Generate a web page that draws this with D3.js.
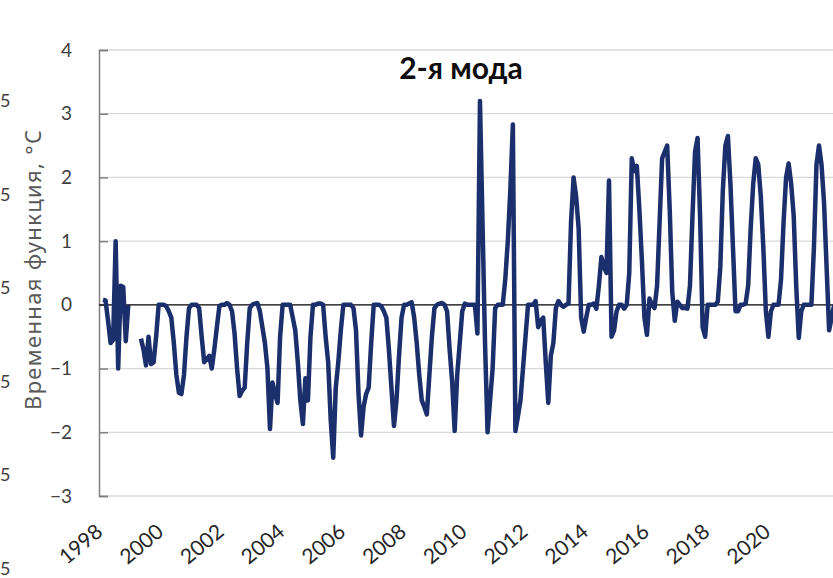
<!DOCTYPE html>
<html>
<head>
<meta charset="utf-8">
<script src="https://cdnjs.cloudflare.com/ajax/libs/d3/7.8.5/d3.min.js"></script>
<style>
  body { margin: 0; background: #fff; }
  svg { display: block; font-family: Lato, "Noto Sans", sans-serif; }
</style>
</head>
<body>
<svg id="chart" width="833" height="578"></svg>
<script>
// tick labels
var yTicks = [-3, -2, -1, 0, 1, 2, 3, 4];
var yearLabels = ['1998', '2000', '2002', '2004', '2006', '2008', '2010', '2012', '2014', '2016', '2018', '2020'];
// digits of the neighbouring chart seen on the left edge
var leftCut = ['5', '5', '5', '5', '5', '5'];

// monthly values of the 2nd mode from Jan 1998 (null = gap)
var mode2 = [
  0.08, 0.07, -0.25, -0.6, -0.55, 1.0, -1.0, 0.3, 0.28, -0.57, 0.0, null,
  null, null, null, -0.53, -0.7, -0.95, -0.5, -0.93, -0.9, -0.5, 0.0, 0.0,
  0.0, -0.02, -0.1, -0.2, -0.6, -1.1, -1.38, -1.4, -1.1, -0.5, -0.05, 0.0,
  0.0, 0.0, -0.05, -0.5, -0.9, -0.85, -0.8, -1.0, -0.7, -0.35, -0.02, 0.0,
  0.0, 0.03, 0.0, -0.1, -0.45, -1.0, -1.43, -1.35, -1.3, -0.6, -0.05, 0.0,
  0.02, 0.03, -0.1, -0.35, -0.6, -1.0, -1.95, -1.22, -1.4, -1.54, -0.5, 0.0,
  0.0, 0.0, 0.0, -0.2, -0.4, -0.9, -1.5, -1.87, -1.15, -1.5, -0.5, 0.0,
  0.0, 0.02, 0.02, 0.0, -0.5, -0.9, -1.8, -2.4, -1.3, -0.9, -0.4, 0.0,
  0.0, 0.0, 0.0, -0.05, -0.4, -1.4, -2.05, -1.6, -1.4, -1.3, -0.6, 0.0,
  0.0, 0.0, -0.02, -0.1, -0.2, -0.7, -1.3, -1.9, -1.5, -0.8, -0.2, 0.0,
  0.0, 0.02, 0.04, -0.2, -0.6, -1.1, -1.5, -1.6, -1.72, -1.1, -0.5, -0.05,
  0.0, 0.02, 0.03, 0.0, -0.1, -0.7, -1.2, -1.98, -1.1, -0.6, -0.1, 0.02,
  0.0, 0.0, 0.0, 0.0, -0.45, 3.2, 1.3, -0.6, -2.0, -1.5, -1.0, -0.05,
  0.0, 0.0, 0.0, 0.4, 1.0, 1.8, 2.83, -1.98, -1.75, -1.5, -1.0, -0.5,
  0.0, 0.0, 0.0, 0.06, -0.35, -0.25, -0.2, -0.9, -1.54, -0.8, -0.6, -0.05,
  0.06, 0.0, -0.03, 0.0, 0.02, 1.3, 2.0, 1.7, 1.2, -0.2, -0.42, -0.2,
  0.0, 0.0, 0.02, -0.06, 0.3, 0.75, 0.6, 0.5, 1.95, -0.5, -0.4, -0.1,
  0.0, 0.0, -0.06, 0.0, 0.5, 2.3, 2.1, 2.18, 1.5, 0.7, -0.2, -0.47,
  0.1, 0.0, -0.05, 0.3, 1.3, 2.3, 2.4, 2.5, 1.5, 0.2, -0.25, 0.05,
  0.0, -0.05, -0.05, -0.06, 0.3, 1.4, 2.4, 2.62, 1.4, -0.35, -0.5, 0.0,
  0.0, 0.0, 0.0, 0.05, 0.6, 1.8, 2.5, 2.65, 1.9, 0.9, -0.1, -0.1,
  0.0, 0.0, 0.02, 0.3, 1.2, 1.9, 2.3, 2.2, 1.7, 0.9, -0.1, -0.5,
  -0.1, 0.0, 0.0, 0.0, 0.4, 1.3, 2.0, 2.22, 1.9, 1.4, 0.3, -0.52,
  -0.1, 0.0, 0.0, 0.0, 0.0, 0.9, 2.2, 2.5, 2.2, 1.6, 0.6, -0.4,
  -0.2, 0.0
];

var svg = d3.select('#chart');
var W = 833, H = 578;
var left = 99;

svg.append('rect').attr('width', W).attr('height', H).attr('fill', '#fff');

var y = d3.scaleLinear().domain([-3, 4]).range([496, 50]);
// x in months since Jan 1998
var x = d3.scaleLinear().domain([0, mode2.length - 1]).range([103, 103 + 2.53 * (mode2.length - 1)]);
var yc = d3.scalePoint().domain(d3.range(leftCut.length)).range([100, 568]);

// gridlines
svg.append('g').selectAll('line').data(yTicks.filter(function(d) { return d != 0; }))
  .enter().append('line')
  .attr('x1', left).attr('x2', W)
  .attr('y1', function(d) { return y(d); }).attr('y2', function(d) { return y(d); })
  .attr('stroke', '#d9d9d9').attr('stroke-width', 1.3);

// y axis, ticks point inward
var yAxis = d3.axisLeft(y).tickValues(yTicks).tickSize(-9).tickPadding(27).tickFormat(d3.format('d'));
var ga = svg.append('g').attr('transform', 'translate(' + left + ',0)').call(yAxis);
ga.select('.domain').attr('stroke', '#7f7f7f').attr('stroke-width', 1.5);
ga.selectAll('.tick line').attr('stroke', '#7f7f7f').attr('stroke-width', 1.5);
ga.selectAll('.tick text').attr('font-size', 19).attr('fill', '#404040')
  .attr('font-family', 'Lato, "Noto Sans", sans-serif');

// zero line
svg.append('line').attr('x1', left).attr('x2', W).attr('y1', y(0)).attr('y2', y(0))
  .attr('stroke', '#000').attr('stroke-width', 1.2);

// series
var line = d3.line()
  .defined(function(d) { return d !== null; })
  .x(function(d, i) { return x(i); })
  .y(function(d) { return y(d); });
svg.append('path').datum(mode2)
  .attr('d', line)
  .attr('fill', 'none')
  .attr('stroke', '#1a2f6b')
  .attr('stroke-width', 4.5)
  .attr('stroke-linejoin', 'round');

// year labels every 24 months, rotated
svg.append('g').selectAll('text').data(yearLabels)
  .enter().append('text')
  .attr('transform', function(d, i) { return 'translate(' + (x(i * 24) + 1) + ',534) rotate(-40)'; })
  .attr('text-anchor', 'end')
  .attr('font-size', 21)
  .attr('fill', '#262626')
  .text(function(d) { return d; });

// title
svg.append('text').attr('x', 461).attr('y', 79).attr('text-anchor', 'middle')
  .attr('font-size', 30).attr('font-weight', 'bold').attr('fill', '#0d0d0d')
  .text('2-я мода');

// y label
svg.append('text').attr('transform', 'translate(41,270) rotate(-90)')
  .attr('text-anchor', 'middle').attr('font-size', 22).attr('fill', '#595959')
  .attr('font-family', '"Noto Sans", Lato, sans-serif')
  .attr('textLength', 280).attr('lengthAdjust', 'spacing')
  .text('Временная функция, °C');

// digits of the next chart
svg.append('g').selectAll('text').data(leftCut)
  .enter().append('text')
  .attr('x', 0).attr('y', function(d, i) { return yc(i) + 7; })
  .attr('font-size', 18).attr('fill', '#404040')
  .text(function(d) { return d; });
</script>
</body>
</html>
